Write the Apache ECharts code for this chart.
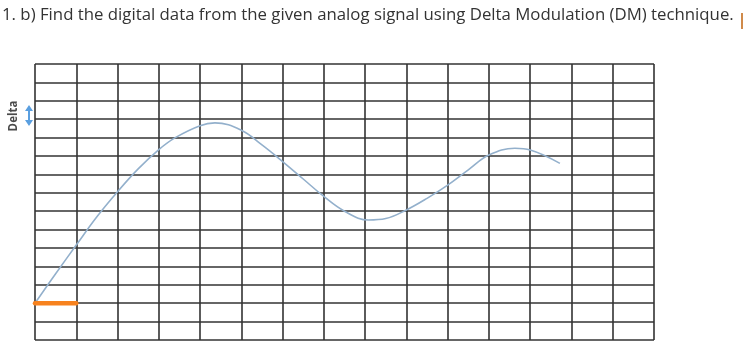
<!DOCTYPE html>
<html>
<head>
<meta charset="utf-8">
<script src="https://cdn.jsdelivr.net/npm/echarts@6/dist/echarts.min.js"></script>
<style>html,body{margin:0;padding:0;background:#fff;}#c{width:746px;height:363px;}</style>
</head>
<body>
<div id="c"></div>
<script>
var titleText = '1. b) Find the digital data from the given analog signal using Delta Modulation (DM) technique.';
var axisLabel = 'Delta';
var xTicks = [0, 15, 1];
var yTicks = [0, 15, 1];
var analogX = [0, 0.5, 1, 1.5, 2, 2.5, 3, 3.4, 4, 4.36, 5, 5.5, 6, 6.5, 7, 7.5, 8.08, 8.5, 9, 9.5, 10, 10.5, 11, 11.63, 12, 12.72];
var analogY = [2, 3.6, 5.16, 6.7, 8.06, 9.3, 10.35, 11.0, 11.65, 11.8, 11.4, 10.6, 9.7, 8.75, 7.8, 7.0, 6.52, 6.6, 7.07, 7.7, 8.42, 9.25, 10.05, 10.42, 10.33, 9.6];
var digitalX = [0, 1];
var digitalY = [2, 2];

function pairs(xs, ys){ return xs.map(function(x,i){ return [x, ys[i]]; }); }

var chart = echarts.init(document.getElementById('c'), null, {renderer:'canvas'});
chart.setOption({
  animation: false,
  backgroundColor: '#fff',
  grid: {left: 35, right: 92, top: 64, bottom: 23, show: false},
  xAxis: {type:'value', min:xTicks[0], max:xTicks[1], interval:xTicks[2],
    axisLine:{show:false}, axisTick:{show:false}, axisLabel:{show:false},
    splitLine:{show:true, lineStyle:{color:'#333', width:1.6}}},
  yAxis: {type:'value', min:yTicks[0], max:yTicks[1], interval:yTicks[2],
    axisLine:{show:false}, axisTick:{show:false}, axisLabel:{show:false},
    splitLine:{show:true, lineStyle:{color:'#333', width:1.6}}},
  series: [
    {type:'line', data: pairs(analogX, analogY), smooth:0.4, showSymbol:false,
      lineStyle:{color:'#93b0cc', width:1.6}},
    {type:'line', data: pairs(digitalX, digitalY), showSymbol:false,
      lineStyle:{color:'#f7821e', width:4.5, cap:'round'}}
  ],
  graphic: [
    {type:'text', left:2, top:7, style:{text:titleText, font:'16.8px "Open Sans", sans-serif', fill:'#333'}},
    {type:'rect', shape:{x:741, y:13, width:2, height:16}, style:{fill:'#d08a4a'}},
    {type:'text', x:14, y:116, rotation:Math.PI/2, style:{text:axisLabel, font:'bold 11.5px "Open Sans", sans-serif', fill:'#4a4a4a', textAlign:'center', textVerticalAlign:'middle'}},
    {type:'polygon', shape:{points:[[29,105],[25,111],[28,111],[28,120],[25,120],[29,126],[33,120],[30,120],[30,111],[33,111]]}, style:{fill:'#5a9fe0'}}
  ]
});
</script>
</body>
</html>
